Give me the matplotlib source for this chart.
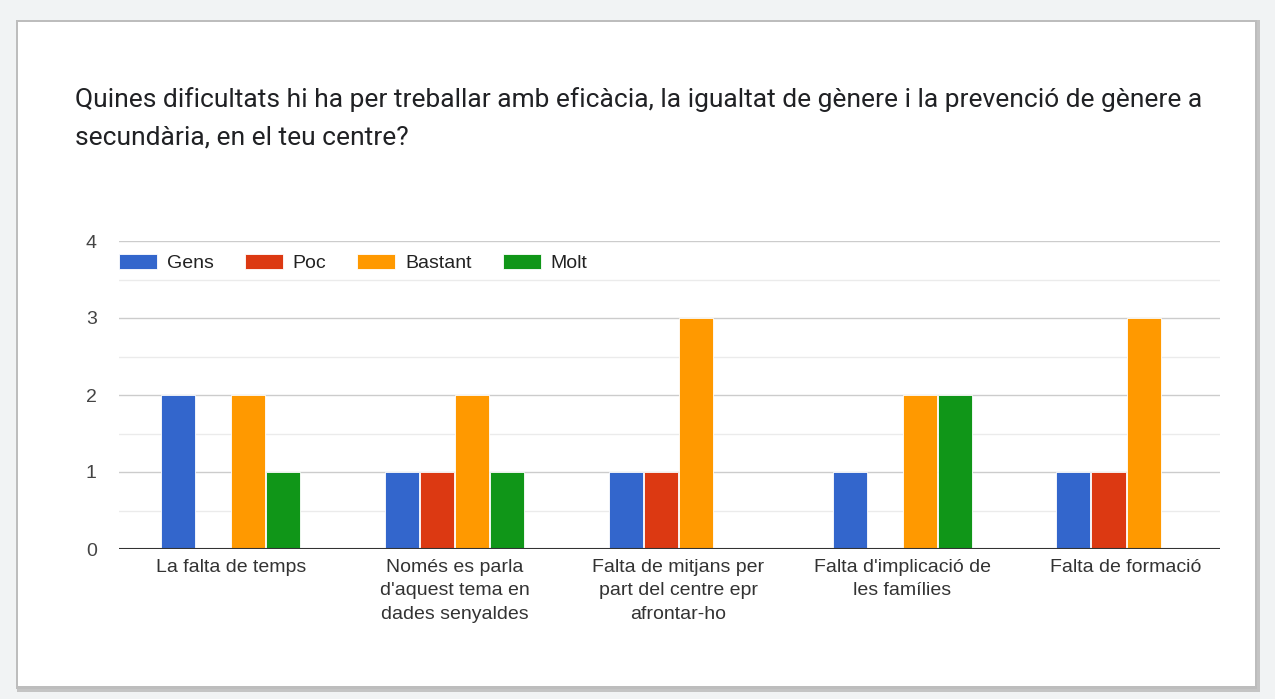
import matplotlib.pyplot as plt
import numpy as np
from matplotlib.patches import Rectangle


TITLE = ("Quines dificultats hi ha per treballar amb eficàcia, la igualtat de gènere i la prevenció de gènere a\n"
         "secundària, en el teu centre?")

CATEGORIES = [
    "La falta de temps",
    "Només es parla\nd'aquest tema en\ndades senyaldes",
    "Falta de mitjans per\npart del centre epr\nafrontar-ho",
    "Falta d'implicació de\nles famílies",
    "Falta de formació",
]

SERIES = ["Gens", "Poc", "Bastant", "Molt"]
GENS = [2, 1, 1, 1, 1]
POC = [0, 1, 1, 0, 1]
BASTANT = [2, 2, 3, 2, 3]
MOLT = [1, 1, 0, 2, 0]

COLORS = ["#3366cc", "#dc3912", "#ff9900", "#109618"]
Y_TICKS = [0, 1, 2, 3, 4]


def main():
    fig = plt.figure(figsize=(12.75, 6.99), dpi=100)
    fig.patch.set_facecolor("#f1f3f4")

    # card with a soft shadow
    fig.patches.append(Rectangle((17 / 1275, 1 - 692 / 699), 1243 / 1275, 672 / 699,
                                 transform=fig.transFigure, facecolor="#c4c4c4",
                                 edgecolor="none", zorder=-3))
    fig.patches.append(Rectangle((16 / 1275, 1 - 689 / 699), 1241 / 1275, 669 / 699,
                                 transform=fig.transFigure, facecolor="#bdbdbd",
                                 edgecolor="none", zorder=-2))
    fig.patches.append(Rectangle((18 / 1275, 1 - 686 / 699), 1237 / 1275, 664 / 699,
                                 transform=fig.transFigure, facecolor="white",
                                 edgecolor="none", zorder=-1))

    line1, line2 = TITLE.split("\n")
    fig.text(75 / 1275, 1 - 100 / 699, line1, fontsize=19, family="Roboto",
             color="#202124", va="center", ha="left", zorder=5)
    fig.text(75 / 1275, 1 - 138 / 699, line2, fontsize=19, family="Roboto",
             color="#202124", va="center", ha="left", zorder=5)

    ax = fig.add_axes([119 / 1275, 1 - 549 / 699, 1101 / 1275, 308 / 699])
    ax.set_zorder(2)
    ax.set_facecolor("white")

    values = [GENS, POC, BASTANT, MOLT]
    x = np.arange(len(CATEGORIES))
    step = 0.1565
    width = 0.152
    for i, (name, vals, color) in enumerate(zip(SERIES, values, COLORS)):
        ax.bar(x + (i - 1.5) * step, vals, width, color=color, label=name,
               edgecolor="white", linewidth=0.6, zorder=3)

    ax.set_xlim(-0.5, 4.42)
    ax.set_ylim(0, 4)
    ax.set_yticks(Y_TICKS)
    ax.set_yticks([0.5, 1.5, 2.5, 3.5], minor=True)
    ax.grid(axis="y", which="major", color="#cccccc", linewidth=1, zorder=0)
    ax.grid(axis="y", which="minor", color="#ebebeb", linewidth=1, zorder=0)
    ax.axhline(0, color="#333333", linewidth=1.5, zorder=4)

    ax.set_xticks(x)
    ax.set_xticklabels(CATEGORIES, fontsize=14, family="Liberation Sans",
                       color="#333333", linespacing=1.52, va="top")
    ax.tick_params(axis="x", length=0, pad=7)
    ax.tick_params(axis="y", which="both", length=0, pad=16, labelsize=14,
                   labelcolor="#444444")
    for lab in ax.get_yticklabels():
        lab.set_family("Liberation Sans")
    for spine in ax.spines.values():
        spine.set_visible(False)

    ax.legend(loc="center left", bbox_to_anchor=(0.0, 0.929), ncol=4, frameon=False,
              prop={"family": "Liberation Sans", "size": 14}, labelcolor="#222222",
              handlelength=1.96, handleheight=0.85, handletextpad=0.5,
              columnspacing=1.6, borderaxespad=0, borderpad=0)

    plt.savefig("out.png", dpi=100, facecolor=fig.get_facecolor())
    plt.close()


if __name__ == "__main__":
    main()
